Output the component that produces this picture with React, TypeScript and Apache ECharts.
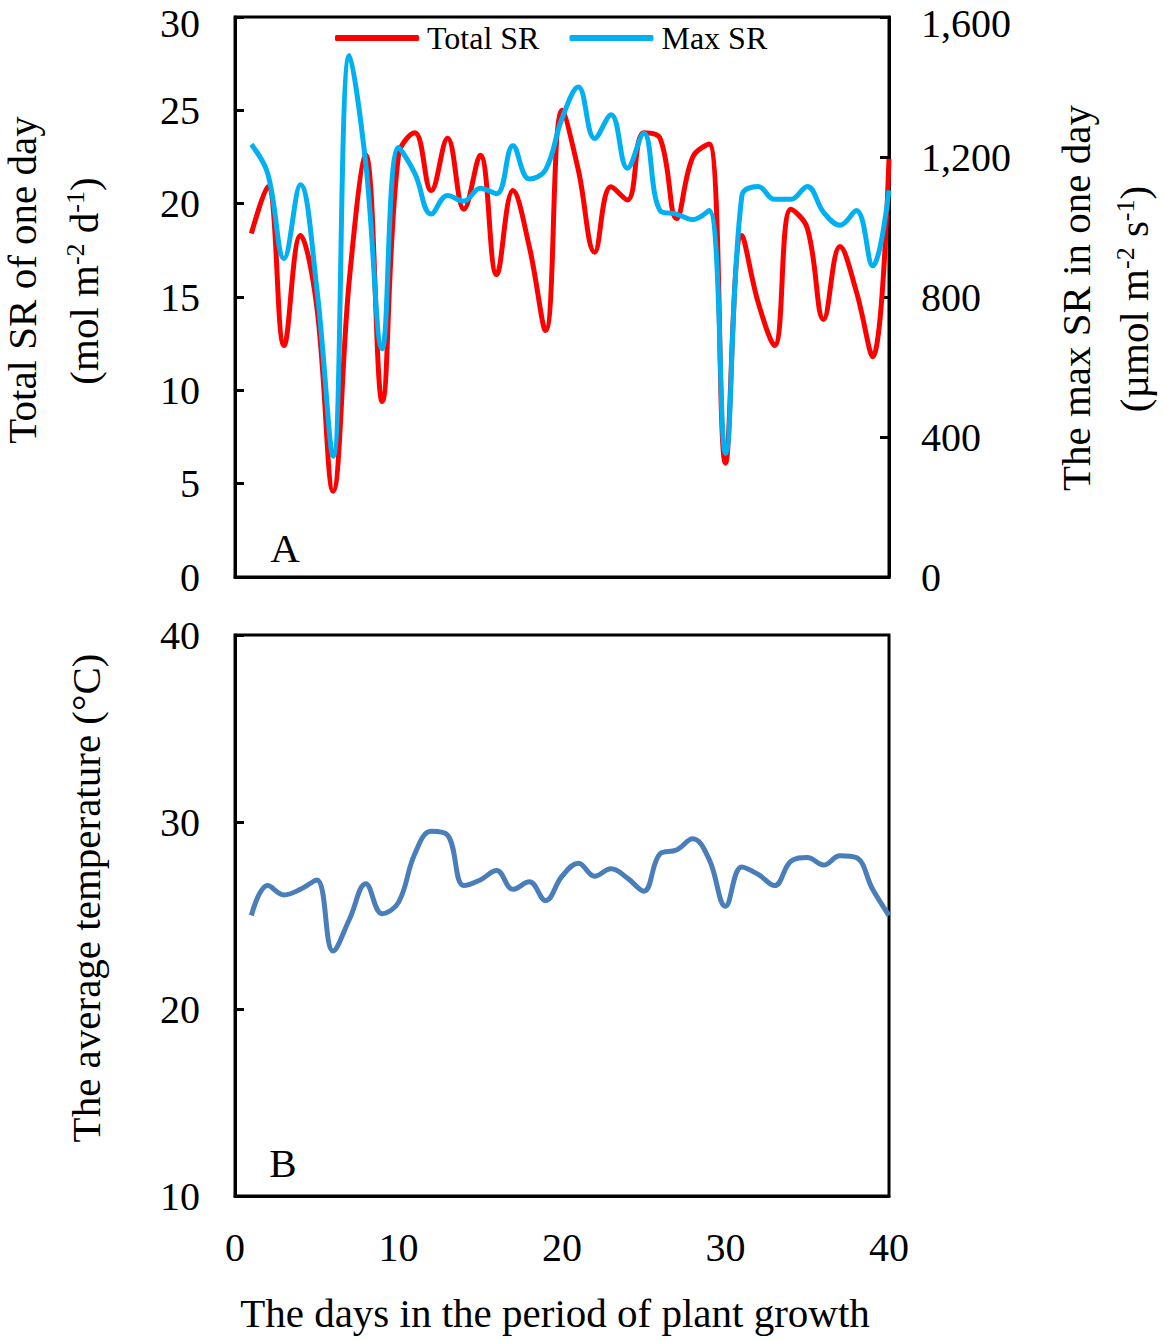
import React, { useEffect, useRef } from "react";
import * as echarts from "echarts";

const days = [1, 2, 3, 4, 5, 6, 7, 8, 9, 10, 11, 12, 13, 14, 15, 16, 17, 18, 19, 20, 21, 22, 23, 24, 25, 26, 27, 28, 29, 30, 31, 32, 33, 34, 35, 36, 37, 38, 39, 40];
const totalSR = [18.4, 20.9, 12.4, 18.3, 14.5, 4.6, 16.0, 22.6, 9.4, 22.6, 23.8, 20.7, 23.5, 19.7, 22.6, 16.2, 20.7, 17.7, 13.2, 25.0, 21.8, 17.4, 20.9, 20.2, 23.8, 23.5, 19.2, 22.5, 23.2, 6.1, 18.3, 14.7, 12.4, 19.7, 18.7, 13.8, 17.7, 15.3, 11.8, 22.4];
const maxSR = [1236, 1153, 910, 1121, 826, 345, 1490, 1180, 652, 1227, 1153, 1037, 1090, 1074, 1111, 1095, 1232, 1137, 1164, 1310, 1400, 1253, 1321, 1168, 1268, 1047, 1037, 1021, 1047, 353, 1089, 1116, 1079, 1079, 1116, 1042, 1005, 1047, 889, 1105];
const avgTemp = [25.0, 26.6, 26.1, 26.4, 26.9, 23.1, 24.8, 26.7, 25.1, 25.7, 28.3, 29.5, 29.3, 26.6, 26.9, 27.4, 26.4, 26.8, 25.8, 27.1, 27.8, 27.1, 27.5, 27.0, 26.3, 28.3, 28.5, 29.1, 28.0, 25.5, 27.6, 27.2, 26.6, 27.9, 28.1, 27.7, 28.2, 28.1, 26.4, 25.0];

const FONT = "Liberation Serif";

export default function App() {
  const ref = useRef<HTMLDivElement>(null);
  useEffect(() => {
    if (!ref.current) return;
    const chart = echarts.init(ref.current, undefined, { renderer: "svg" });
    const pair = (arr: number[]) => days.map((d, i) => [d, arr[i]]);
    const axisLine = { show: true, lineStyle: { color: "#000", width: 3 } };
    const tick = { show: true, inside: true, length: 9, lineStyle: { color: "#000", width: 3 } };
    const label = { fontFamily: FONT, fontSize: 40, lineHeight: 30, color: "#000" };
    const topRich = { m: { fontFamily: FONT, fontSize: 40, lineHeight: 30, color: "#000", padding: [12, 0, 0, 0] } };
    const titleStyle = { fontFamily: FONT, fontSize: 41, fill: "#000", align: "center", verticalAlign: "middle" };
    const sup = { fontFamily: FONT, fontSize: 26, fill: "#000", verticalAlign: "top", lineHeight: 24 };
    chart.setOption({
      animation: false,
      backgroundColor: "#fff",
      grid: [
        { left: 235, top: 17, width: 654, height: 560, show: true, borderColor: "#000", borderWidth: 3, containLabel: false, outerBoundsMode: "none" },
        { left: 235, top: 635, width: 654, height: 561, show: true, borderColor: "#000", borderWidth: 3, containLabel: false, outerBoundsMode: "none" },
      ],
      legend: {
        left: 330,
        top: 17,
        itemWidth: 84,
        itemHeight: 6,
        itemGap: 30,
        icon: "roundRect",
        textStyle: { fontFamily: FONT, fontSize: 32, color: "#000", padding: [0, 0, 0, 3] },
        data: ["Total SR", "Max SR"],
      },
      xAxis: [
        { type: "value", gridIndex: 0, min: 0, max: 40, interval: 10, axisLine, axisTick: { show: false }, axisLabel: { show: false }, splitLine: { show: false } },
        { type: "value", gridIndex: 1, min: 0, max: 40, interval: 10, axisLine, axisTick: { show: false }, axisLabel: { ...label, margin: 36 }, splitLine: { show: false } },
      ],
      yAxis: [
        {
          type: "value", gridIndex: 0, min: 0, max: 30, interval: 5, axisLine, axisTick: tick, splitLine: { show: false },
          axisLabel: { ...label, margin: 35, rich: topRich, formatter: (v: number) => (v === 30 ? "{m|30}" : String(v)) },
        },
        {
          type: "value", gridIndex: 0, position: "right", min: 0, max: 1600, interval: 400, axisLine, axisTick: tick, splitLine: { show: false },
          axisLabel: { ...label, margin: 32, rich: topRich, formatter: (v: number) => (v === 1600 ? "{m|" + v.toLocaleString("en-US") + "}" : v.toLocaleString("en-US")) },
        },
        { type: "value", gridIndex: 1, min: 10, max: 40, interval: 10, axisLine, axisTick: tick, axisLabel: { ...label, margin: 35 }, splitLine: { show: false } },
      ],
      series: [
        { name: "Total SR", type: "line", xAxisIndex: 0, yAxisIndex: 0, data: pair(totalSR), smooth: 0.4, showSymbol: false, symbol: "none", lineStyle: { color: "#ff0000", width: 5 }, itemStyle: { color: "#ff0000" } },
        { name: "Max SR", type: "line", xAxisIndex: 0, yAxisIndex: 1, data: pair(maxSR), smooth: 0.4, showSymbol: false, symbol: "none", lineStyle: { color: "#00b0f0", width: 5 }, itemStyle: { color: "#00b0f0" } },
        { name: "Average temperature", type: "line", xAxisIndex: 1, yAxisIndex: 2, data: pair(avgTemp), smooth: 0.4, showSymbol: false, symbol: "none", lineStyle: { color: "#4a7ebb", width: 5 }, itemStyle: { color: "#4a7ebb" } },
      ],
      graphic: [
        { type: "text", x: 22, y: 280, rotation: Math.PI / 2, style: { ...titleStyle, text: "Total SR of one day" } },
        { type: "text", x: 84, y: 281, rotation: Math.PI / 2, style: { ...titleStyle, text: "(mol m{s|-2} d{s|-1})", lineHeight: 44, rich: { s: sup } } },
        { type: "text", x: 1076, y: 298, rotation: Math.PI / 2, style: { ...titleStyle, text: "The max SR in one day" } },
        { type: "text", x: 1134, y: 299, rotation: Math.PI / 2, style: { ...titleStyle, text: "(µmol m{s|-2} s{s|-1})", lineHeight: 44, rich: { s: sup } } },
        { type: "text", x: 86, y: 898, rotation: Math.PI / 2, style: { ...titleStyle, text: "The average temperature (°C)" } },
        { type: "text", x: 555, y: 1313, style: { ...titleStyle, text: "The days in the period of plant growth" } },
        { type: "text", x: 285, y: 548, style: { ...titleStyle, text: "A" } },
        { type: "text", x: 283, y: 1163, style: { ...titleStyle, text: "B" } },
      ],
    });
    return () => chart.dispose();
  }, []);
  return <div ref={ref} style={{ position: "absolute", left: 0, top: 0, width: 1165, height: 1341 }} />;
}
